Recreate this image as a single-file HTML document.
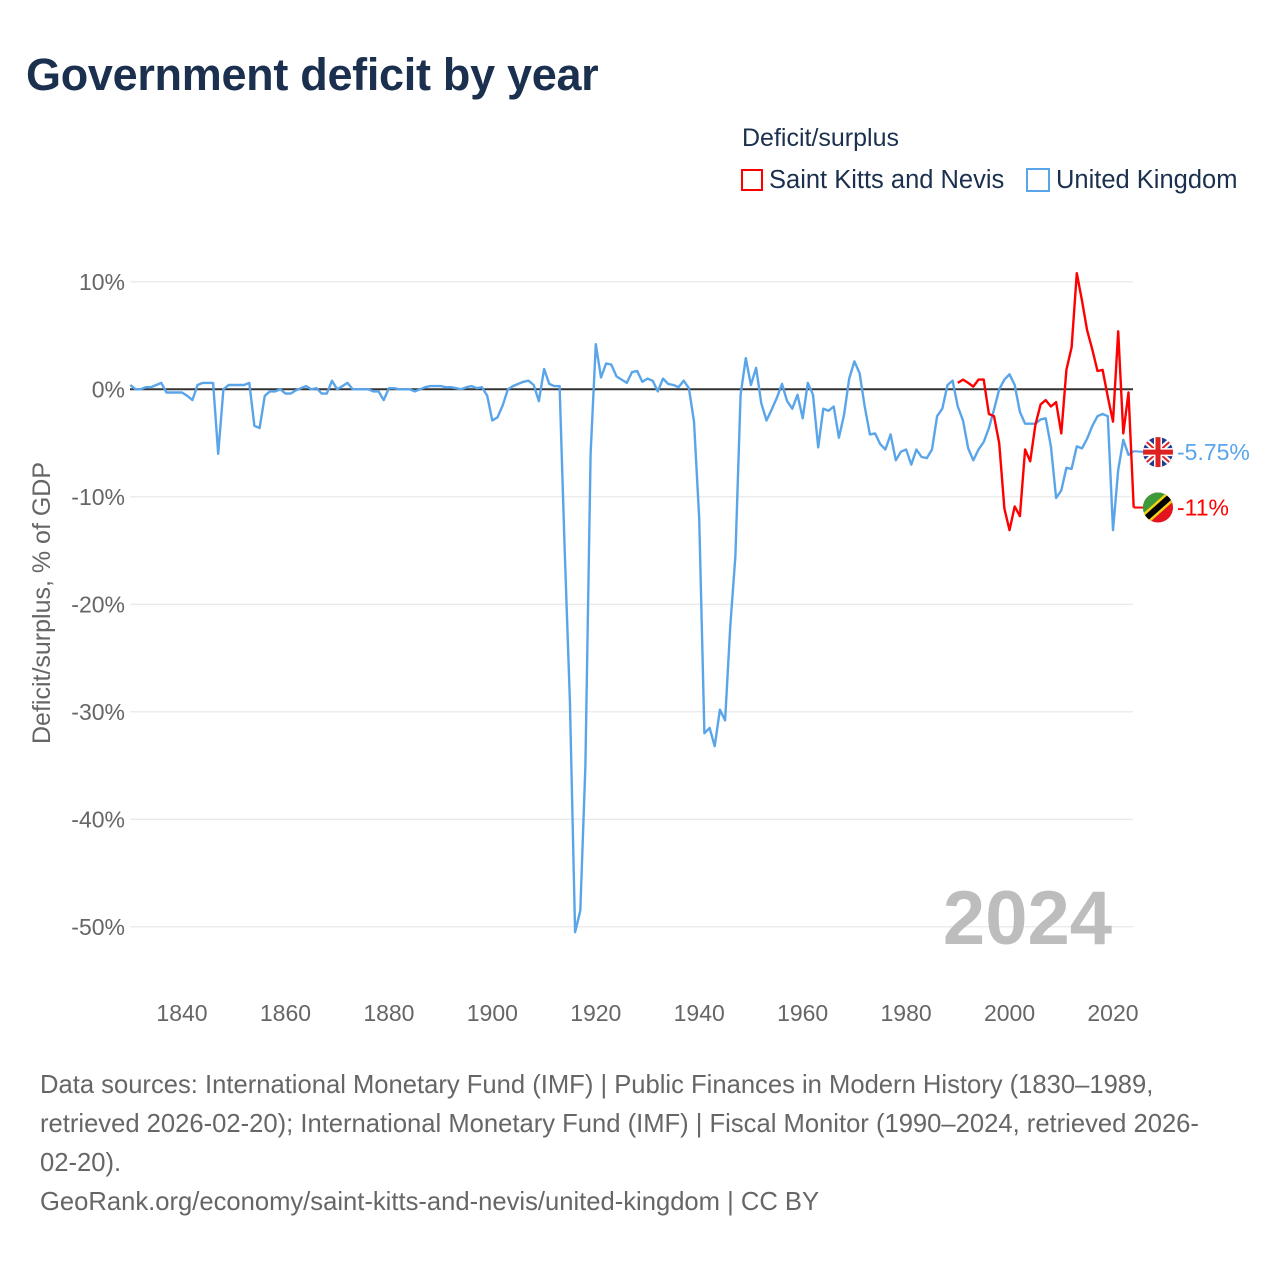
<!DOCTYPE html>
<html><head><meta charset="utf-8"><style>
body{margin:0;background:#fff;font-family:"Liberation Sans",sans-serif;}
#w{position:relative;width:1280px;height:1280px;overflow:hidden;}
.t{position:absolute;white-space:nowrap;}
</style></head><body>
<div id="w">
<div class="t" style="left:26px;top:49px;font-size:45px;font-weight:bold;color:#1b2f4e;letter-spacing:-0.3px">Government deficit by year</div>
<div class="t" style="left:742px;top:124px;font-size:25px;color:#1b2f4e">Deficit/surplus</div>
<div class="t" style="left:741px;top:166px;font-size:25.5px;color:#1b2f4e"><span style="display:inline-block;width:22px;height:22px;border:2px solid #f00;box-sizing:border-box;vertical-align:-3px;margin-right:6px"></span>Saint Kitts and Nevis</div>
<div class="t" style="left:1026px;top:166px;font-size:25.5px;color:#1b2f4e"><span style="display:inline-block;width:24px;height:24px;border:2px solid #5aa5ea;box-sizing:border-box;vertical-align:-4px;margin-right:6px"></span>United Kingdom</div>
<svg id="plot" width="1280" height="1280" style="position:absolute;left:0;top:0"></svg>
<div class="t" style="left:40px;top:1066px;font-size:25.6px;line-height:39px;color:#666">Data sources: International Monetary Fund (IMF) | Public Finances in Modern History (1830–1989,<br>retrieved 2026-02-20); International Monetary Fund (IMF) | Fiscal Monitor (1990–2024, retrieved 2026-<br>02-20).<br>GeoRank.org/economy/saint-kitts-and-nevis/united-kingdom | CC BY</div>
</div>
<script>
const ukStart=1830;
const ukValues=[0.4,0,0,0.2,0.2,0.4,0.6,-0.3,-0.3,-0.3,-0.3,-0.6,-1.0,0.4,0.6,0.6,0.6,-6.0,0,0.4,0.4,0.4,0.4,0.6,-3.4,-3.6,-0.6,-0.2,-0.2,0,-0.4,-0.4,-0.1,0.1,0.3,0,0.1,-0.4,-0.4,0.8,0,0.3,0.6,0,0,0,0,-0.2,-0.2,-1.0,0.1,0.1,0,0,0,-0.2,0,0.2,0.3,0.3,0.3,0.2,0.2,0.1,0,0.2,0.3,0.1,0.2,-0.6,-2.9,-2.6,-1.5,0,0.3,0.5,0.7,0.8,0.4,-1.1,1.9,0.5,0.3,0.3,-15,-29,-50.5,-48.5,-35,-6,4.2,1.1,2.4,2.3,1.2,0.9,0.6,1.6,1.7,0.7,1.0,0.8,-0.2,1.0,0.5,0.4,0.2,0.8,0.1,-3.0,-12,-32,-31.5,-33.2,-29.8,-30.8,-22,-15.5,-0.5,2.9,0.4,2.0,-1.3,-2.9,-1.9,-0.8,0.5,-1.1,-1.8,-0.5,-2.7,0.6,-0.5,-5.4,-1.8,-2.0,-1.6,-4.5,-2.4,1.0,2.6,1.5,-1.6,-4.2,-4.1,-5.1,-5.6,-4.2,-6.6,-5.8,-5.6,-7.0,-5.6,-6.3,-6.4,-5.6,-2.5,-1.8,0.4,0.8,-1.6,-2.9,-5.5,-6.6,-5.6,-4.9,-3.6,-1.9,0,0.9,1.4,0.4,-2.1,-3.2,-3.2,-3.2,-2.8,-2.7,-5.3,-10.1,-9.4,-7.3,-7.4,-5.3,-5.5,-4.6,-3.4,-2.5,-2.3,-2.5,-13.1,-7.5,-4.7,-6.1,-5.75];
const sknStart=1990;
const sknValues=[0.6,0.9,0.6,0.25,0.9,0.9,-2.3,-2.5,-5.0,-11.1,-13.1,-10.9,-11.8,-5.6,-6.7,-3.3,-1.4,-1.0,-1.6,-1.2,-4.1,1.8,3.9,10.8,8.3,5.5,3.7,1.7,1.8,-0.7,-3.0,5.4,-4.1,-0.3,-11.0];
const yTicks=[10,0,-10,-20,-30,-40,-50];
const xTicks=[1840,1860,1880,1900,1920,1940,1960,1980,2000,2020];
const X=yr=>130.3+5.172*(yr-1830);
const Y=v=>389.3-10.75*v;
const svg=document.getElementById('plot');
const NS='http://www.w3.org/2000/svg';
function mk(tag,attrs){const e=document.createElementNS(NS,tag);for(const k in attrs)e.setAttribute(k,attrs[k]);svg.appendChild(e);return e;}
yTicks.forEach(v=>{
  const g=mk('line',{x1:130,x2:1133,y1:Y(v),y2:Y(v),stroke:v===0?'#333':'#e6e6e6','stroke-width':v===0?2:1.2});
  
  
  const t=mk('text',{x:125,y:Y(v)+8,'text-anchor':'end','font-size':23,fill:'#666','font-family':'Liberation Sans, sans-serif'});
  t.textContent=v+'%';
  
  
});
xTicks.forEach(yr=>{
  const t=mk('text',{x:X(yr),y:1021,'text-anchor':'middle','font-size':23,fill:'#666','font-family':'Liberation Sans, sans-serif'});
  t.textContent=yr;
  
  
});
const yt=mk('text',{x:0,y:0,transform:'translate(50,603) rotate(-90)','text-anchor':'middle','font-size':25,fill:'#666','font-family':'Liberation Sans, sans-serif'});
yt.textContent='Deficit/surplus, % of GDP';


const yr=mk('text',{x:1112,y:944,'text-anchor':'end','font-size':76,'font-weight':'bold',fill:'#bdbdbd','font-family':'Liberation Sans, sans-serif'});
yr.textContent='2024';


function line(start,vals,color,name){
  const p=vals.map((v,i)=>X(start+i).toFixed(1)+','+Y(v).toFixed(1)).join(' ');
  const l=mk('polyline',{points:p,fill:'none',stroke:color,'stroke-width':2.4,'stroke-linejoin':'round'});
  
  
}
line(ukStart,ukValues,'#5aa5ea','uk-line');
line(sknStart,sknValues,'#ff0000','skn-line');
const ukLast=ukValues[ukValues.length-1], sLast=sknValues[sknValues.length-1];
const ex=X(ukStart+ukValues.length-1);
const c1=mk('line',{x1:ex,x2:1145,y1:Y(ukLast),y2:Y(ukLast)+1,stroke:'#5aa5ea','stroke-width':2});

const c2=mk('line',{x1:ex,x2:1145,y1:Y(sLast),y2:Y(sLast),stroke:'#ff0000','stroke-width':2});

const uy=Y(ukLast)+1, sy=Y(sLast);
const ukf=document.createElementNS(NS,'g');


ukf.innerHTML=`<clipPath id="cu"><circle cx="1158" cy="${uy}" r="15"/></clipPath><g clip-path="url(#cu)"><rect x="1140" y="${uy-16}" width="36" height="32" fill="#1f3d8a"/><line x1="1140" y1="${uy-16}" x2="1176" y2="${uy+16}" stroke="#fff" stroke-width="6"/><line x1="1176" y1="${uy-16}" x2="1140" y2="${uy+16}" stroke="#fff" stroke-width="6"/><line x1="1140" y1="${uy-16}" x2="1176" y2="${uy+16}" stroke="#d22" stroke-width="2"/><line x1="1176" y1="${uy-16}" x2="1140" y2="${uy+16}" stroke="#d22" stroke-width="2"/><rect x="1140" y="${uy-4}" width="36" height="8" fill="#fff"/><rect x="1154" y="${uy-16}" width="8" height="32" fill="#fff"/><rect x="1140" y="${uy-2.5}" width="36" height="5" fill="#d22"/><rect x="1155.5" y="${uy-16}" width="5" height="32" fill="#d22"/></g>`;
svg.appendChild(ukf);
const skf=document.createElementNS(NS,'g');


skf.innerHTML=`<clipPath id="cs"><circle cx="1158" cy="${sy}" r="15"/></clipPath><g clip-path="url(#cs)"><rect x="1140" y="${sy-16}" width="36" height="32" fill="#e1141f"/><polygon points="1140,${sy-16} 1176,${sy-16} 1140,${sy+16}" fill="#3d9a3a"/><line x1="1176" y1="${sy-16}" x2="1140" y2="${sy+16}" stroke="#f7d116" stroke-width="11"/><line x1="1176" y1="${sy-16}" x2="1140" y2="${sy+16}" stroke="#000" stroke-width="6"/></g>`;
svg.appendChild(skf);
const l1=mk('text',{x:1177,y:uy+8,'font-size':23,fill:'#5aa5ea','font-family':'Liberation Sans, sans-serif'});
l1.textContent=ukLast+'%';

const l2=mk('text',{x:1177,y:sy+8,'font-size':23,fill:'#ff0000','font-family':'Liberation Sans, sans-serif'});
l2.textContent=sLast+'%';

</script>
</body></html>
